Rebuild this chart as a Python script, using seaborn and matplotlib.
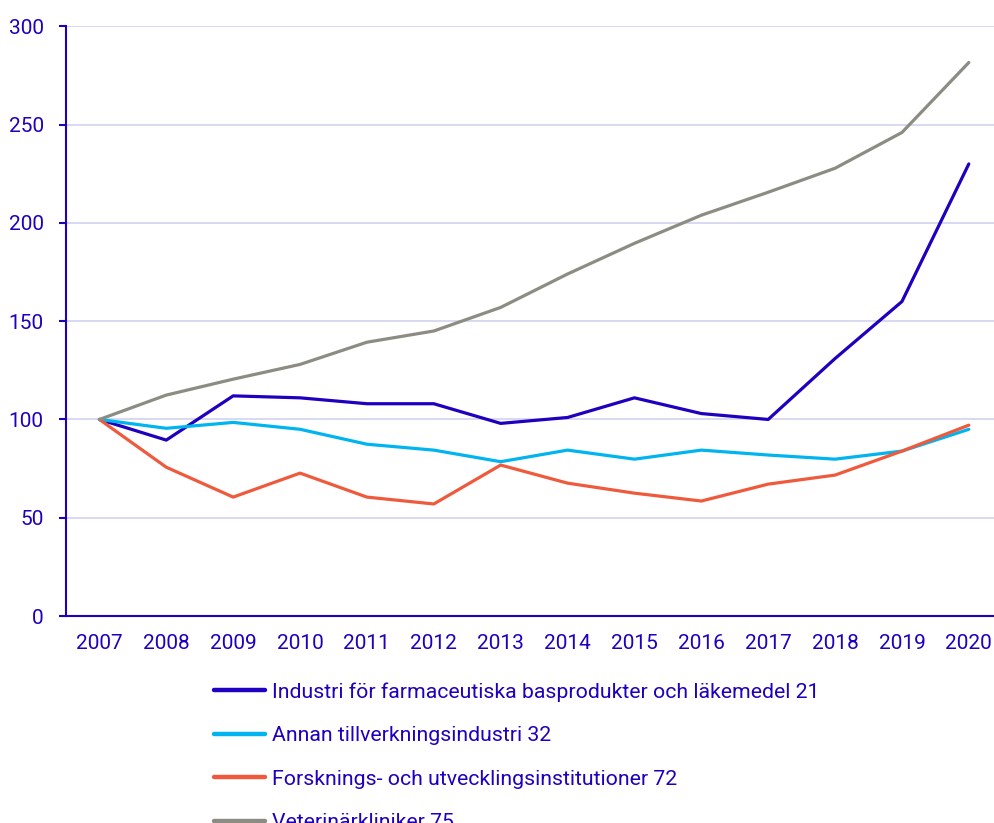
import pandas as pd
import numpy as np
import matplotlib
matplotlib.use('Agg')
import matplotlib.pyplot as plt
import seaborn as sns

years = ['2007', '2008', '2009', '2010', '2011', '2012', '2013',
         '2014', '2015', '2016', '2017', '2018', '2019', '2020']

industri = [100, 89.5, 112, 111, 108, 108, 98, 101, 111, 103, 100, 131, 160, 230]
annan = [100, 95.5, 98.5, 95, 87.4, 84.4, 78.5, 84.4, 79.8, 84.4, 81.9, 79.8, 83.9, 95]
forskning = [100, 75.7, 60.5, 72.7, 60.5, 57, 76.8, 67.6, 62.5, 58.5, 67.1, 71.7, 83.9, 97.1]
veterinar = [100, 112.4, 120.5, 128, 139.3, 145, 157, 174, 189.6, 203.9, 215.6, 227.8, 246, 281.6]

series_names = ['Industri för farmaceutiska basprodukter och läkemedel 21',
                'Annan tillverkningsindustri 32',
                'Forsknings- och utvecklingsinstitutioner 72',
                'Veterinärkliniker 75']
colors = ['#1e00be', '#00b4f0', '#f05a3c', '#8c8c82']

df = pd.DataFrame({'year': years,
                   series_names[0]: industri,
                   series_names[1]: annan,
                   series_names[2]: forskning,
                   series_names[3]: veterinar})
long = df.melt(id_vars='year', var_name='serie', value_name='value')

sns.set_style('white')
plt.rcParams['font.family'] = ['Roboto', 'DejaVu Sans']
txt = '#1e00be'

fig = plt.figure(figsize=(9.95, 8.23), dpi=100)
ax = fig.add_axes([0.0663, 0.2515, 0.941, 0.7165])

sns.lineplot(data=long, x='year', y='value', hue='serie', palette=colors,
             hue_order=series_names, linewidth=2.3, ax=ax, sort=False)

ax.set_ylim(0, 300)
ax.set_xlim(-0.5, len(years) - 0.5)
ax.set_yticks(np.arange(0, 301, 50))
ax.yaxis.grid(True, color='#d6d6f0', linewidth=1.3)
ax.xaxis.grid(False)
ax.set_xticks(range(len(years)))
ax.set_xticklabels(years)
ax.set_xticks(np.arange(-0.5, len(years), 1), minor=True)
ax.tick_params(axis='x', which='major', length=0, pad=13, labelsize=15, labelcolor=txt)
ax.tick_params(axis='x', which='minor', length=5, width=1.5, color=txt, direction='out')
ax.tick_params(axis='y', length=5, width=1.5, color=txt, pad=11, labelsize=15, labelcolor=txt, left=True)
ax.set_xlabel('')
ax.set_ylabel('')

for s in ['top', 'right']:
    ax.spines[s].set_visible(False)
for s in ['left', 'bottom']:
    ax.spines[s].set_color(txt)
    ax.spines[s].set_linewidth(1.5)

ax.get_legend().remove()
handles, labels = ax.get_legend_handles_labels()
leg = fig.legend(handles, labels, loc='upper left', bbox_to_anchor=(0.215, 0.171),
                 frameon=False, fontsize=15.3, handlelength=2.4, handletextpad=0.35,
                 labelspacing=1.15, borderpad=0, borderaxespad=0)
for t in leg.get_texts():
    t.set_color(txt)
for h in leg.get_lines():
    h.set_linewidth(3.2)

fig.savefig('out.png', dpi=100)
